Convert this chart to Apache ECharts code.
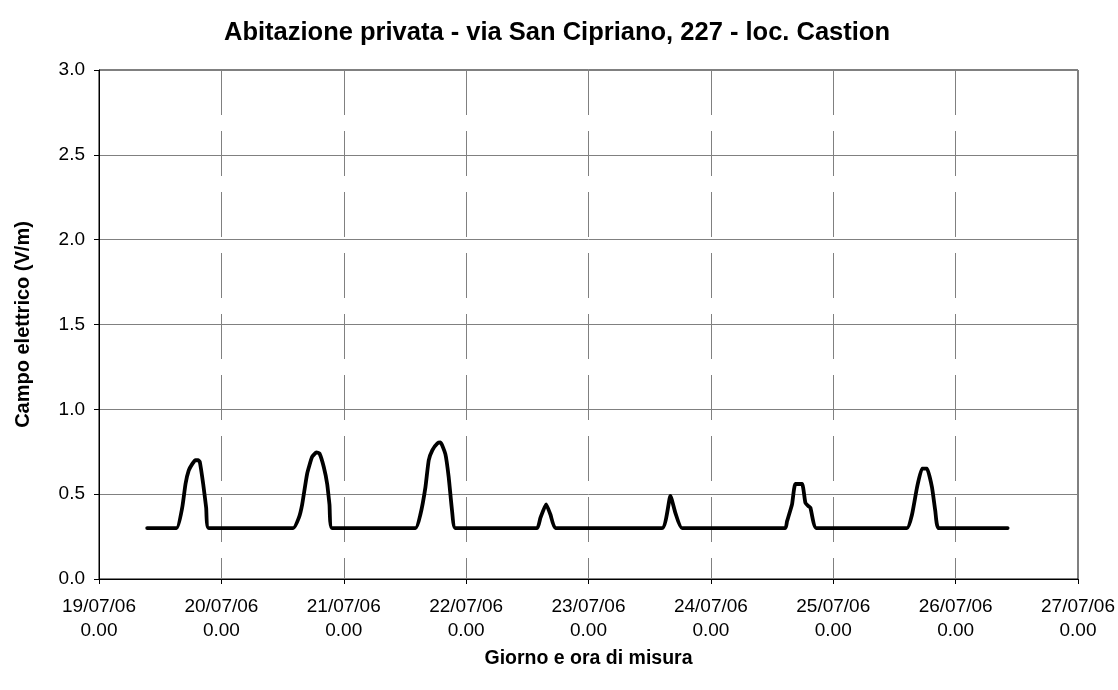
<!DOCTYPE html>
<html>
<head>
<meta charset="utf-8">
<script src="https://cdn.jsdelivr.net/npm/echarts@6/dist/echarts.min.js"></script>
<style>
  html, body { margin: 0; padding: 0; background: #fff; }
  #chart { width: 1118px; height: 690px; }
</style>
</head>
<body>
<div id="chart"></div>
<script>
// Time stamps (dd/mm hh:mm, year 2006) and electric field values (V/m)
const times = [
  '19/07 09:27', '19/07 15:12', '19/07 16:19', '19/07 16:58', '19/07 17:36', '19/07 18:20', '19/07 18:55', '19/07 19:25', '19/07 19:46', '19/07 20:26', '19/07 21:01', '19/07 21:32',
  '20/07 14:05', '20/07 15:11', '20/07 15:51', '20/07 16:49', '20/07 17:48', '20/07 18:39', '20/07 19:14', '20/07 20:05', '20/07 20:45', '20/07 21:12', '20/07 21:44',
  '21/07 14:04', '21/07 15:02', '21/07 16:01', '21/07 16:40', '21/07 17:23', '21/07 18:22', '21/07 18:58', '21/07 19:56', '21/07 20:35', '21/07 21:15', '21/07 21:54',
  '22/07 13:55', '22/07 14:34', '22/07 15:41', '22/07 16:32', '22/07 17:31',
  '23/07 14:26', '23/07 16:04', '23/07 17:02', '23/07 18:21',
  '24/07 14:36', '24/07 14:56', '24/07 15:55', '24/07 16:34', '24/07 17:53', '24/07 18:32', '24/07 19:07', '24/07 19:31', '24/07 20:41',
  '25/07 14:28', '25/07 15:27', '25/07 16:26', '25/07 17:25', '25/07 18:23', '25/07 19:22', '25/07 20:01', '25/07 20:40',
  '26/07 10:12'
];
const values = [
  0.30, 0.30, 0.42, 0.56, 0.64, 0.68, 0.70, 0.70, 0.69, 0.56, 0.42, 0.30,
  0.30, 0.36, 0.44, 0.62, 0.72, 0.746, 0.74, 0.66, 0.56, 0.44, 0.30,
  0.30, 0.38, 0.54, 0.70, 0.76, 0.80, 0.805, 0.736, 0.60, 0.40, 0.30,
  0.30, 0.36, 0.44, 0.38, 0.30,
  0.30, 0.49, 0.39, 0.30,
  0.30, 0.34, 0.44, 0.56, 0.56, 0.45, 0.43, 0.42, 0.30,
  0.30, 0.38, 0.54, 0.65, 0.65, 0.54, 0.40, 0.30,
  0.30
];
const dayLabels = ['19/07/06', '20/07/06', '21/07/06', '22/07/06', '23/07/06', '24/07/06', '25/07/06', '26/07/06', '27/07/06'];
const yTicks = [0.0, 0.5, 1.0, 1.5, 2.0, 2.5, 3.0];

const titleText = 'Abitazione privata - via San Cipriano, 227 - loc. Castion';
const xName = 'Giorno e ora di misura';
const yName = 'Campo elettrico (V/m)';

function toHours(s) {
  const parts = s.split(' ');
  const d = parts[0].split('/');
  const t = parts[1].split(':');
  return (Number(d[0]) - 19) * 24 + Number(t[0]) + Number(t[1]) / 60;
}
const seriesData = times.map((t, i) => [toHours(t), values[i]]);

const chart = echarts.init(document.getElementById('chart'), null, { renderer: 'canvas' });
const FONT = 'Liberation Sans, Arial, sans-serif';

chart.setOption({
  animation: false,
  backgroundColor: '#fff',
  title: {
    text: titleText,
    left: 552, top: 15, textAlign: 'center',
    textStyle: { fontFamily: FONT, fontWeight: 'bold', fontSize: 25.5, color: '#000' }
  },
  grid: {
    left: 99, right: 40, top: 70, bottom: 111,
    outerBoundsMode: 'none', containLabel: false,
    show: true, borderColor: '#000', borderWidth: 1, backgroundColor: '#fff'
  },
  xAxis: {
    type: 'value',
    min: 0, max: (dayLabels.length - 1) * 24, interval: 24,
    name: xName, nameLocation: 'middle', nameGap: 70,
    nameTextStyle: { fontFamily: FONT, fontWeight: 'bold', fontSize: 19.5, color: '#000' },
    axisLine: { lineStyle: { color: '#000', width: 1 } },
    axisTick: { show: true, length: 5, inside: false, lineStyle: { color: '#000' } },
    axisLabel: {
      margin: 16, fontFamily: FONT, fontSize: 19, color: '#000', lineHeight: 24,
      formatter: v => dayLabels[Math.round(v / 24)] + '\n0.00'
    },
    splitLine: { show: true, lineStyle: { color: '#808080', width: 1, type: [45, 16] } }
  },
  yAxis: {
    type: 'value',
    min: yTicks[0], max: yTicks[yTicks.length - 1], interval: 0.5,
    name: yName, nameLocation: 'middle', nameGap: 66, nameRotate: 90,
    nameTextStyle: { fontFamily: FONT, fontWeight: 'bold', fontSize: 20, color: '#000' },
    axisLine: { show: true, lineStyle: { color: '#000', width: 1 } },
    axisTick: { show: true, length: 5, inside: false, lineStyle: { color: '#000' } },
    axisLabel: {
      margin: 14, fontFamily: FONT, fontSize: 19, color: '#000',
      formatter: v => v.toFixed(1)
    },
    splitLine: { show: true, lineStyle: { color: '#808080', width: 1 } }
  },
  series: [{
    type: 'line',
    data: seriesData,
    symbol: 'none',
    smooth: 0.15,
    lineStyle: { color: '#000', width: 3.8, cap: 'round', join: 'round' },
    z: 5
  }]
});
</script>
</body>
</html>
